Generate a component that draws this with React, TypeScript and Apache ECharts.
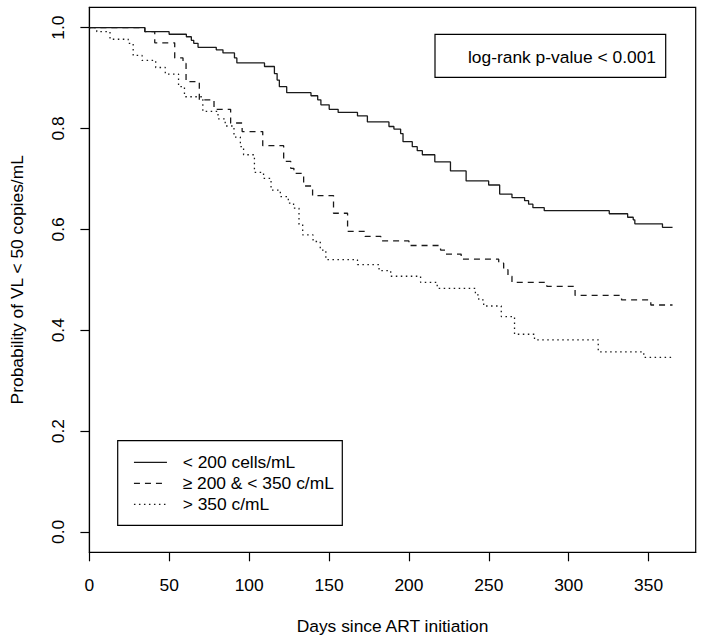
import React, { useEffect, useRef } from "react";
import * as echarts from "echarts";

const xTicks = [0, 50, 100, 150, 200, 250, 300, 350];
const yTicks = [0, 0.2, 0.4, 0.6, 0.8, 1.0];
const seriesNames = ["< 200 cells/mL", "≥ 200 & < 350 c/mL", "> 350 c/mL"];
const pValueText = "log-rank p-value < 0.001";
const xTitle = "Days since ART initiation";
const yTitle = "Probability of VL < 50 copies/mL";

// Kaplan-Meier steps: [day, survival after that day]
const lowCD4: [number, number][] = [
  [0, 1.0], [34.7, 0.992], [49.9, 0.987], [60.7, 0.982], [63.8, 0.975], [65.3, 0.969],
  [68.0, 0.961], [79.4, 0.956], [83.6, 0.95], [90.8, 0.94], [92.3, 0.93], [109.6, 0.923],
  [115.8, 0.909], [117.5, 0.896], [118.9, 0.883], [123.5, 0.871], [138.7, 0.865],
  [142.9, 0.857], [144.9, 0.847], [150.1, 0.838], [155.7, 0.832], [167.8, 0.825],
  [174.0, 0.813], [187.5, 0.804], [190.6, 0.799], [194.8, 0.79], [196.3, 0.774],
  [202.1, 0.764], [205.2, 0.756], [208.4, 0.748], [216.2, 0.734], [226.0, 0.716],
  [235.8, 0.696], [249.9, 0.688], [256.8, 0.67], [264.5, 0.663], [272.4, 0.657],
  [274.9, 0.65], [277.6, 0.643], [284.7, 0.637], [325.4, 0.631], [336.9, 0.624],
  [340.4, 0.619], [341.4, 0.611], [358.7, 0.604], [365, 0.604],
];
const midCD4: [number, number][] = [
  [0, 1.0], [34.7, 0.992], [40.9, 0.97], [53.4, 0.94], [58.6, 0.929], [60.5, 0.893],
  [68.8, 0.857], [78.0, 0.838], [88.4, 0.811], [95.6, 0.794], [108.5, 0.766],
  [121.6, 0.735], [126.0, 0.721], [128.0, 0.711], [134.1, 0.686], [139.7, 0.667],
  [152.8, 0.632], [161.6, 0.596], [172.6, 0.586], [182.4, 0.577], [200.0, 0.568],
  [219.8, 0.559], [222.9, 0.551], [232.7, 0.541], [256.2, 0.533], [259.3, 0.52],
  [262.0, 0.507], [264.5, 0.495], [286.3, 0.487], [304.0, 0.469], [333.1, 0.46],
  [351.4, 0.45], [365, 0.45],
];
const highCD4: [number, number][] = [
  [0, 1.0], [4.6, 0.992], [12.9, 0.977], [24.3, 0.969], [27.4, 0.945], [33.0, 0.935],
  [41.5, 0.921], [47.5, 0.908], [55.8, 0.883], [59.5, 0.863], [71.0, 0.834],
  [80.5, 0.819], [85.0, 0.805], [90.5, 0.783], [94.5, 0.764], [96.5, 0.748],
  [103.3, 0.713], [109.0, 0.701], [113.7, 0.678], [119.5, 0.665], [124.5, 0.652],
  [127.8, 0.642], [131.2, 0.61], [133.5, 0.589], [140.0, 0.576], [144.5, 0.559],
  [148.0, 0.54], [167.8, 0.53], [181.3, 0.518], [188.6, 0.507], [207.3, 0.495],
  [217.7, 0.483], [241.6, 0.47], [243.7, 0.46], [246.8, 0.448], [257.8, 0.427],
  [266.1, 0.392], [278.6, 0.381], [318.5, 0.357], [347.0, 0.346], [365, 0.346],
];

const FONT = "'Liberation Sans', Arial, Helvetica, sans-serif";
const FS = 17.4;
const INK = "#000";
const CURVE = "#1a1a1a";

export default function App() {
  const ref = useRef<HTMLDivElement>(null);
  useEffect(() => {
    if (!ref.current) return;
    const chart = echarts.init(ref.current, undefined, { renderer: "svg" });
    const dashes: (string | number[])[] = ["solid", [6, 5], [1.5, 3.5]];
    const datasets = [lowCD4, midCD4, highCD4];
    chart.setOption({
      animation: false,
      grid: {
        left: 87.7,
        right: 8.3,
        top: 7.3,
        bottom: 91.7,
        show: true,
        borderColor: INK,
        borderWidth: 1.2,
        backgroundColor: "transparent",
      },
      xAxis: {
        type: "value",
        position: "bottom",
        min: 0,
        max: 379.5,
        axisLine: { show: true, onZero: false, lineStyle: { color: INK, width: 1.2 } },
        splitLine: { show: false },
        axisTick: {
          show: true,
          inside: false,
          length: 9,
          lineStyle: { color: INK, width: 1.2 },
          customValues: xTicks,
        },
        axisLabel: {
          customValues: xTicks,
          inside: false,
          margin: 24,
          fontSize: FS,
          fontFamily: FONT,
          color: INK,
        },
        name: xTitle,
        nameLocation: "middle",
        nameGap: 65.6,
        nameTextStyle: { fontSize: FS, fontFamily: FONT, color: INK },
      },
      yAxis: {
        type: "value",
        position: "left",
        min: -0.0404,
        max: 1.0404,
        axisLine: { show: true, onZero: false, lineStyle: { color: INK, width: 1.2 } },
        splitLine: { show: false },
        axisTick: {
          show: true,
          inside: false,
          length: 9,
          lineStyle: { color: INK, width: 1.2 },
          customValues: yTicks,
        },
        axisLabel: {
          customValues: yTicks,
          inside: false,
          rotate: 90,
          margin: 23.2,
          fontSize: FS,
          fontFamily: FONT,
          color: INK,
          formatter: (v: number) => v.toFixed(1),
        },
        name: yTitle,
        nameLocation: "middle",
        nameGap: 64.4,
        nameTextStyle: { fontSize: FS, fontFamily: FONT, color: INK },
      },
      legend: {
        orient: "vertical",
        left: 133.3,
        top: 451.8,
        padding: 0,
        itemGap: 0,
        itemWidth: 33,
        itemHeight: 12,
        selectedMode: false,
        itemStyle: { opacity: 0 },
        lineStyle: { width: 1.3 },
        textStyle: {
          fontSize: FS,
          fontFamily: FONT,
          color: INK,
          lineHeight: 21,
          padding: [0, 0, 0, 10.7],
        },
        data: seriesNames,
      },
      graphic: [
        {
          type: "rect",
          shape: { x: 117.7, y: 440.7, width: 224.6, height: 84.6 },
          style: { fill: "transparent", stroke: INK, lineWidth: 1.2 },
          silent: true,
        },
        {
          type: "rect",
          shape: { x: 435, y: 34.3, width: 230.7, height: 43 },
          style: { fill: "transparent", stroke: INK, lineWidth: 1.2 },
          silent: true,
        },
        {
          type: "text",
          x: 656,
          y: 57,
          silent: true,
          style: {
            text: pValueText,
            fontSize: FS,
            fontFamily: FONT,
            fill: INK,
            textAlign: "right",
            verticalAlign: "middle",
          },
        },
      ],
      series: datasets.map((d, i) => ({
        name: seriesNames[i],
        type: "line",
        step: "end",
        symbol: "none",
        showSymbol: false,
        silent: true,
        data: d,
        lineStyle: { color: CURVE, width: 1.3, type: dashes[i] },
        itemStyle: { color: CURVE },
        emphasis: { disabled: true },
      })),
    });
    return () => chart.dispose();
  }, []);
  return (
    <div
      ref={ref}
      style={{ position: "absolute", left: 0, top: 0, width: 704, height: 644 }}
    />
  );
}
